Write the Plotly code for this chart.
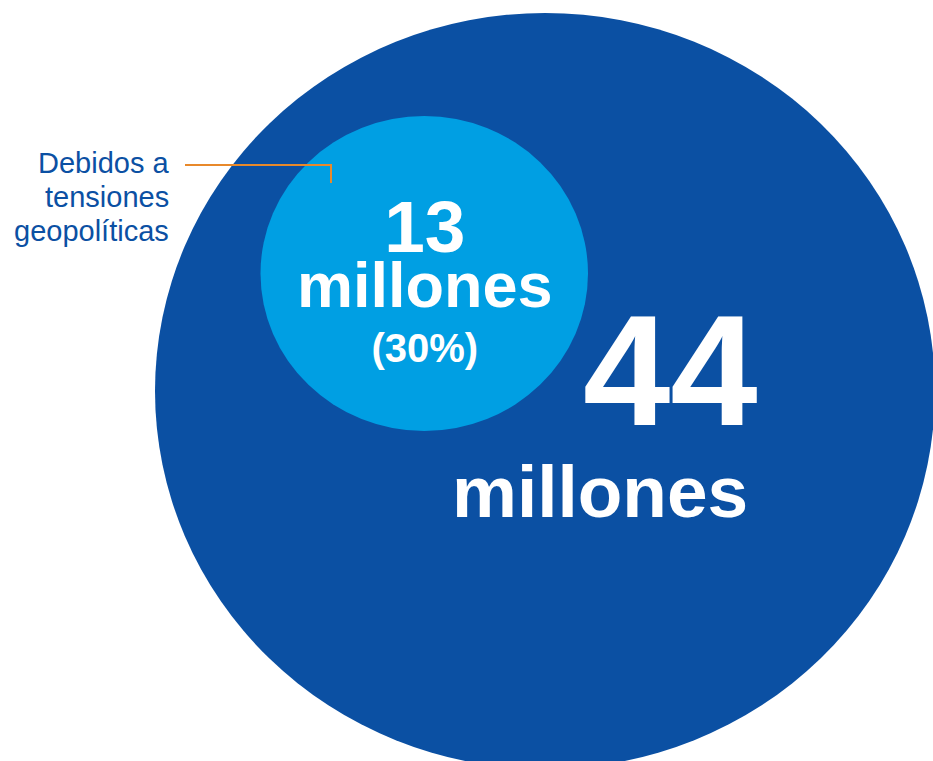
import plotly.graph_objects as go

# ---- data ----
categories = ["Total", "Debidos a tensiones geopolíticas"]
values_millions = [44, 13]
share_pct = [30]
unit_label = "millones"
callout_lines = ["Debidos a", "tensiones", "geopolíticas"]

# ---- styles ----
W, H = 933, 761
DARK = "#0B50A3"
LIGHT = "#009FE3"
ORANGE = "#E8892B"
FONT = "Liberation Sans, Arial, sans-serif"

fig = go.Figure()

shapes = [
    dict(type="circle", xref="x", yref="y", x0=155, x1=935, y0=13, y1=769,
         fillcolor=DARK, line=dict(width=0), layer="below"),
    dict(type="circle", xref="x", yref="y", x0=260.5, x1=588, y0=116, y1=431,
         fillcolor=LIGHT, line=dict(width=0), layer="below"),
    dict(type="path", xref="x", yref="y", path="M 185 165 L 331 165 L 331 183",
         line=dict(color=ORANGE, width=2), layer="above"),
]

def ann(text, x, y, size, bold=True, color="white", xanchor="center"):
    t = f"<b>{text}</b>" if bold else text
    return dict(text=t, x=x, y=y, xref="x", yref="y", showarrow=False,
                xanchor=xanchor, yanchor="middle",
                font=dict(family=FONT, size=size, color=color))

inner_text = (f"<span style='font-size:73px'>{values_millions[1]}</span><br>"
              f"<span style='font-size:63px'>{unit_label}</span><br>"
              f"<span style='font-size:40px'>({share_pct[0]}%)</span>")

annotations = [
    ann(inner_text, 424.5, 277.9, 42.3),
    ann(str(values_millions[0]), 670, 370.6, 157),
    ann(unit_label, 599.5, 491.5, 73),
]
for line, yc in zip(callout_lines, [163.3, 197.3, 231.0]):
    annotations.append(ann(line, 171, yc, 29, bold=False, color=DARK, xanchor="right"))

fig.update_layout(
    width=W, height=H,
    margin=dict(l=0, r=0, t=0, b=0),
    paper_bgcolor="white", plot_bgcolor="white",
    xaxis=dict(range=[0, W], visible=False, fixedrange=True),
    yaxis=dict(range=[H, 0], visible=False, fixedrange=True),
    shapes=shapes,
    annotations=annotations,
    showlegend=False,
)

fig.write_html("out.html", config={"displayModeBar": False},
               post_script="document.body.style.margin='0';document.body.style.overflow='hidden';")
